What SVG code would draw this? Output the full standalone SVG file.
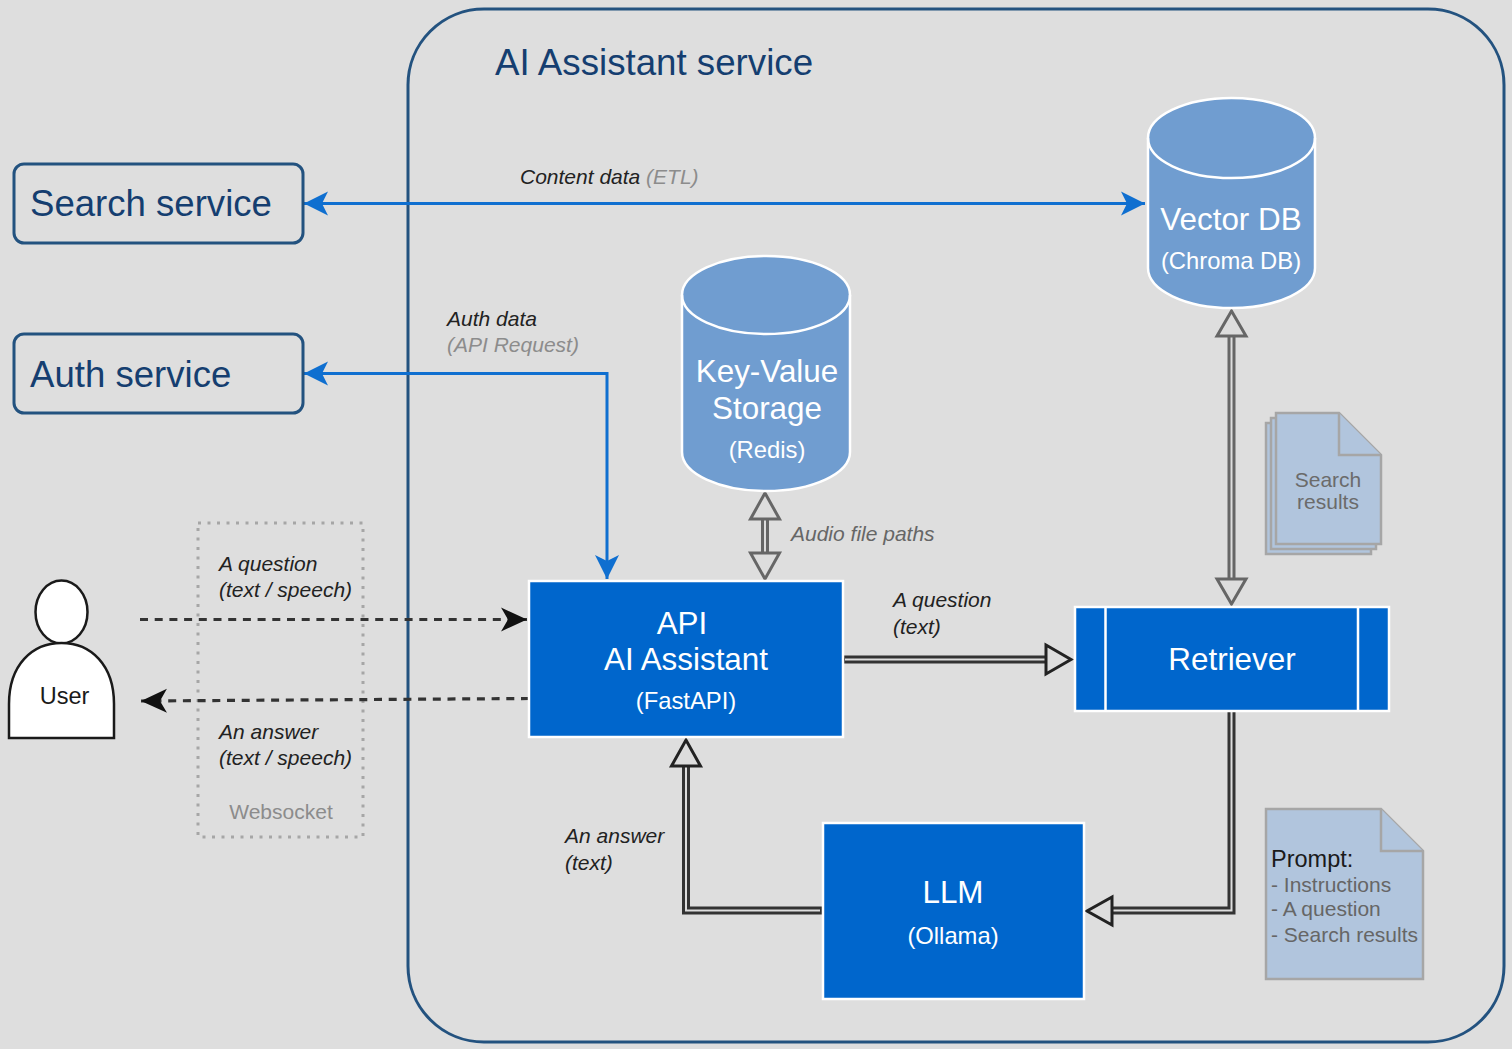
<svg xmlns="http://www.w3.org/2000/svg" width="1512" height="1049" viewBox="0 0 1512 1049">
<style>
text{font-family:"Liberation Sans",Arial,sans-serif}
.lbl{font-size:21px;font-style:italic;fill:#222}
.mut{fill:#8c8c8c}
.w{fill:#fff;text-anchor:middle}
.big{font-size:31.4px}
.sub{font-size:23.8px}
.box{fill:#0066cc;stroke:#fff;stroke-width:2.5}
.svc{fill:none;stroke:#23527f;stroke-width:3}
.cyl{fill:#709dd0;stroke:#fff;stroke-width:2.5}
.doc{fill:#b1c5dd;stroke:#a6a6a6;stroke-width:2.5}
.blue{fill:none;stroke:#0f6fd0;stroke-width:3}
.dash{fill:none;stroke:#333;stroke-width:3.2;stroke-dasharray:8 6.7}
.o1{fill:none;stroke:#333;stroke-width:8}
.i1{fill:none;stroke:#ddd;stroke-width:2}
.o2{fill:none;stroke:#666;stroke-width:8}
.h1{fill:#ddd;stroke:#222;stroke-width:3}
.h2{fill:#ddd;stroke:#666;stroke-width:3}
</style>
<defs>
<marker id="bl" markerUnits="userSpaceOnUse" markerWidth="26" markerHeight="28" refX="24" refY="14" orient="auto-start-reverse"><path d="M0 2 L24 14 L0 26 L6 14 Z" fill="#0f6fd0"/></marker>
<marker id="bk" markerUnits="userSpaceOnUse" markerWidth="28" markerHeight="28" refX="26" refY="14" orient="auto"><path d="M0 2 L26 14 L0 26 L7 14 Z" fill="#111"/></marker>
</defs>
<rect width="1512" height="1049" fill="#dedede"/>
<g id="ai-assistant-service">
<rect x="408" y="9" width="1096" height="1033" rx="76" ry="76" fill="none" stroke="#23527f" stroke-width="3"/>
<text x="495" y="75" font-size="36.700" fill="#153e70">AI Assistant service</text>
</g>
<g id="websocket">
<rect x="198" y="523" width="165" height="314" fill="none" stroke="#a6a6a6" stroke-width="3" stroke-dasharray="3 6.5"/>
<text class="mut" x="281" y="819" font-size="21" text-anchor="middle">Websocket</text>
</g>
<g id="connectors">
<path class="blue" d="M1145 203.500H304" marker-end="url(#bl)" marker-start="url(#bl)"/>
<path class="blue" d="M607 579V373.500H304" marker-start="url(#bl)" marker-end="url(#bl)"/>
<path class="dash" d="M140 619.500H527" marker-end="url(#bk)"/>
<path class="dash" d="M529 698.500L141 701" marker-end="url(#bk)"/>
<path class="o1" d="M843 659.500H1048"/><path class="i1" d="M845 659.500H1050"/>
<path class="h1" d="M1046 645L1071 659.500L1046 674Z"/>
<path class="o1" d="M1231.500 712V910.500H1112"/><path class="i1" d="M1231.500 712V910.500H1110"/>
<path class="h1" d="M1112 897L1087 911L1112 925Z"/>
<path class="o1" d="M822 910.500H686V766"/><path class="i1" d="M820 910.500H686V764"/>
<path class="h1" d="M671.500 766L686 740L700.500 766Z"/>
<path class="o2" d="M765 518V553"/><path class="i1" d="M765 516V555"/>
<path class="h2" d="M750.500 519L765 493L779.500 519Z"/>
<path class="h2" d="M750.500 553L765 579L779.500 553Z"/>
<path class="o2" d="M1231.500 336V579"/><path class="i1" d="M1231.500 334V581"/>
<path class="h2" d="M1217 336L1231.500 311L1246 336Z"/>
<path class="h2" d="M1217 579L1231.500 604L1246 579Z"/>
</g>
<g id="search-service">
<rect class="svc" x="14" y="164" width="289" height="79" rx="10"/>
<text x="30" y="216" font-size="36.600" fill="#153e70">Search service</text>
</g>
<g id="auth-service">
<rect class="svc" x="14" y="334" width="289" height="79" rx="10"/>
<text x="30" y="387" font-size="36.600" fill="#153e70">Auth service</text>
</g>
<g id="vector-db">
<path class="cyl" d="M1148 138A83.500 40 0 0 1 1315 138V268A83.500 40 0 0 1 1148 268Z"/>
<path d="M1148 138A83.500 40 0 0 0 1315 138" fill="none" stroke="#fff" stroke-width="2.500"/>
<text class="w big" x="1231" y="230">Vector DB</text>
<text class="w sub" x="1231" y="269">(Chroma DB)</text>
</g>
<g id="key-value-storage">
<path class="cyl" d="M682 295A84 39 0 0 1 850 295V452A84 39 0 0 1 682 452Z"/>
<path d="M682 295A84 39 0 0 0 850 295" fill="none" stroke="#fff" stroke-width="2.500"/>
<text class="w big" x="767" y="382">Key-Value</text>
<text class="w big" x="767" y="419">Storage</text>
<text class="w sub" x="767" y="458">(Redis)</text>
</g>
<g id="user">
<ellipse cx="61.500" cy="612" rx="26" ry="31.500" fill="#fff" stroke="#1a1a1a" stroke-width="2.500"/>
<path d="M9 738V704C9 665 32 643 61.500 643C91 643 114 665 114 704V738Z" fill="#fff" stroke="#1a1a1a" stroke-width="2.500"/>
<text x="64.500" y="704" font-size="23.500" text-anchor="middle" fill="#1a1a1a">User</text>
</g>
<g id="api-ai-assistant">
<rect class="box" x="529" y="581" width="314" height="156"/>
<text class="w big" x="682" y="634">API</text>
<text class="w big" x="686" y="670">AI Assistant</text>
<text class="w sub" x="686" y="709">(FastAPI)</text>
</g>
<g id="retriever">
<rect class="box" x="1075" y="607" width="314" height="104"/>
<path d="M1105.500 607V711M1358 607V711" stroke="#fff" stroke-width="2.500" fill="none"/>
<text class="w big" x="1232" y="670">Retriever</text>
</g>
<g id="llm">
<rect class="box" x="823" y="823" width="261" height="176"/>
<text class="w big" x="953" y="903">LLM</text>
<text class="w sub" x="953" y="944">(Ollama)</text>
</g>
<g id="search-results">
<path class="doc" d="M1266 423H1330V544H1371V554H1266Z" stroke-width="2"/>
<path class="doc" d="M1271 418H1335V540H1376V549H1271Z" stroke-width="2"/>
<path class="doc" d="M1276 413H1339L1381 455V544H1276Z"/>
<path class="doc" d="M1339 413V455H1381"/>
<text x="1328" y="487" font-size="21" text-anchor="middle" fill="#6b6b6b">Search</text>
<text x="1328" y="509" font-size="21" text-anchor="middle" fill="#6b6b6b">results</text>
</g>
<g id="prompt">
<path class="doc" d="M1266 809H1381L1423 851V979H1266Z"/>
<path class="doc" d="M1381 809V851H1423"/>
<text x="1271" y="867" font-size="23.500" fill="#1a1a1a">Prompt:</text>
<g font-size="21" fill="#666">
<text x="1271" y="892">- Instructions</text>
<text x="1271" y="916">- A question</text>
<text x="1271" y="942">- Search results</text>
</g>
</g>
<g id="labels">
<text class="lbl" x="520" y="184">Content data <tspan fill="#8c8c8c">(ETL)</tspan></text>
<text class="lbl" x="447" y="326">Auth data</text>
<text class="lbl mut" x="447" y="352">(API Request)</text>
<text class="lbl" x="219" y="571">A question</text>
<text class="lbl" x="219" y="597">(text / speech)</text>
<text class="lbl" x="219" y="739">An answer</text>
<text class="lbl" x="219" y="765">(text / speech)</text>
<text class="lbl" x="791" y="541" style="fill:#666">Audio file paths</text>
<text class="lbl" x="893" y="607">A question</text>
<text class="lbl" x="893" y="634">(text)</text>
<text class="lbl" x="565" y="843">An answer</text>
<text class="lbl" x="565" y="870">(text)</text>
</g>
</svg>
